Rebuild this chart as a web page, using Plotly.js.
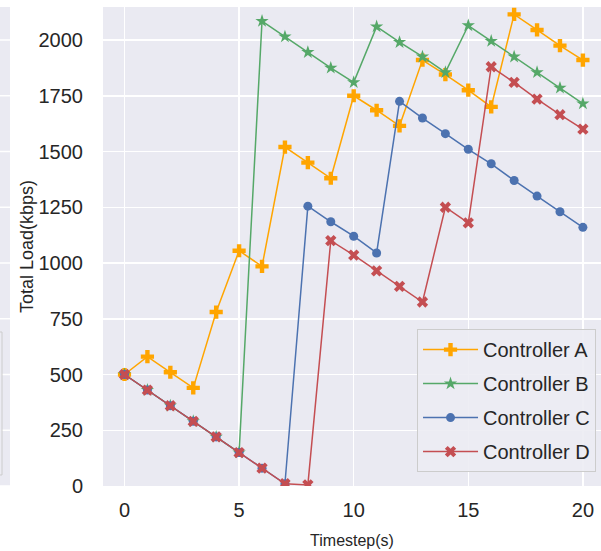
<!DOCTYPE html>
<html>
<head>
<meta charset="utf-8">
<script src="https://cdn.plot.ly/plotly-3.0.1.min.js"></script>
<style>html,body{margin:0;padding:0;background:#fff;}#chart{width:601px;height:551px;}</style>
</head>
<body>
<div id="chart"></div>
<script>
const timesteps = [0,1,2,3,4,5,6,7,8,9,10,11,12,13,14,15,16,17,18,19,20];
const controllerA = [500,580,510,440,780,1055,985,1520,1450,1380,1750,1685,1615,1910,1845,1775,1700,2115,2045,1975,1910];
const controllerB = [500,430,360,290,220,150,2085,2015,1945,1875,1810,2060,1990,1925,1855,2065,1995,1925,1855,1785,1715];
const controllerC = [500,430,360,290,220,150,80,10,1255,1185,1120,1045,1725,1650,1580,1510,1445,1370,1300,1230,1160];
const controllerD = [500,430,360,290,220,150,80,10,5,1100,1035,965,895,825,1250,1180,1880,1810,1735,1665,1600];
const seriesNames = ["Controller A","Controller B","Controller C","Controller D"];
const xTicks = [0,5,10,15,20];
const yTicks = [0,250,500,750,1000,1250,1500,1750,2000];

const colors = ["#FFA500","#55A868","#4C72B0","#C44E52"];
const symbols = ["cross","star","circle","x"];
const sizes = [11,10,9,10];
const data = [controllerA,controllerB,controllerC,controllerD].map((ys,i)=>({
  type:"scatter", mode:"lines+markers", x:timesteps, y:ys, name:seriesNames[i],
  legendgroup:"g"+i,
  line:{color:colors[i], width:1.5},
  marker:{color:colors[i], symbol:symbols[i], size:sizes[i], line:{width:0}}
}));

const font = "Liberation Sans, Arial, sans-serif";
const gridY = yTicks.map(v=>({type:"line", xref:"paper", yref:"y", x0:-0.2068, x1:-0.1867, y0:v, y1:v, line:{color:"#fff", width:1.5}, layer:"above"}));
const layout = {
  width:601, height:551,
  margin:{l:103, r:0, t:7, b:65},
  paper_bgcolor:"#ffffff", plot_bgcolor:"#EAEAF2",
  font:{family:font, color:"#262626"},
  showlegend:true,
  legend:{x:0.99, y:0.029, xanchor:"right", yanchor:"bottom", bgcolor:"rgba(236,236,243,0.9)", bordercolor:"#cccccc", borderwidth:1, itemwidth:55, font:{size:20, family:font, color:"#262626"}, traceorder:"grouped", tracegroupgap:5},
  xaxis:{range:[-0.938,20.79], tickvals:xTicks, ticktext:xTicks.map(String), showgrid:true, gridcolor:"#ffffff", gridwidth:1.5, zeroline:false, showline:false, ticks:"", ticklabelstandoff:10, tickfont:{size:20, family:font, color:"#262626"}, title:{text:"Timestep(s)", font:{size:16, family:font, color:"#262626"}, standoff:14}},
  yaxis:{range:[0,2148], tickvals:yTicks, ticktext:yTicks.map(String), showgrid:true, gridcolor:"#ffffff", gridwidth:1.5, zeroline:false, showline:false, ticks:"", ticklabelstandoff:19, tickfont:{size:20, family:font, color:"#262626"}, title:{text:"Total Load(kbps)", font:{size:18, family:font, color:"#262626"}, standoff:0}},
  shapes:[
    {type:"rect", xref:"paper", yref:"paper", x0:-0.2068, x1:-0.1867, y0:0, y1:1, fillcolor:"#EAEAF2", line:{width:0}, layer:"below"},
    ...gridY,
    {type:"rect", xref:"paper", yref:"paper", x0:-0.25, x1:-0.2028, y0:0.023, y1:0.3215, fillcolor:"rgba(236,236,243,0.9)", line:{color:"#cccccc", width:1}, layer:"above"}
  ]
};
Plotly.newPlot("chart", data, layout, {displayModeBar:false, staticPlot:true});
</script>
</body>
</html>
